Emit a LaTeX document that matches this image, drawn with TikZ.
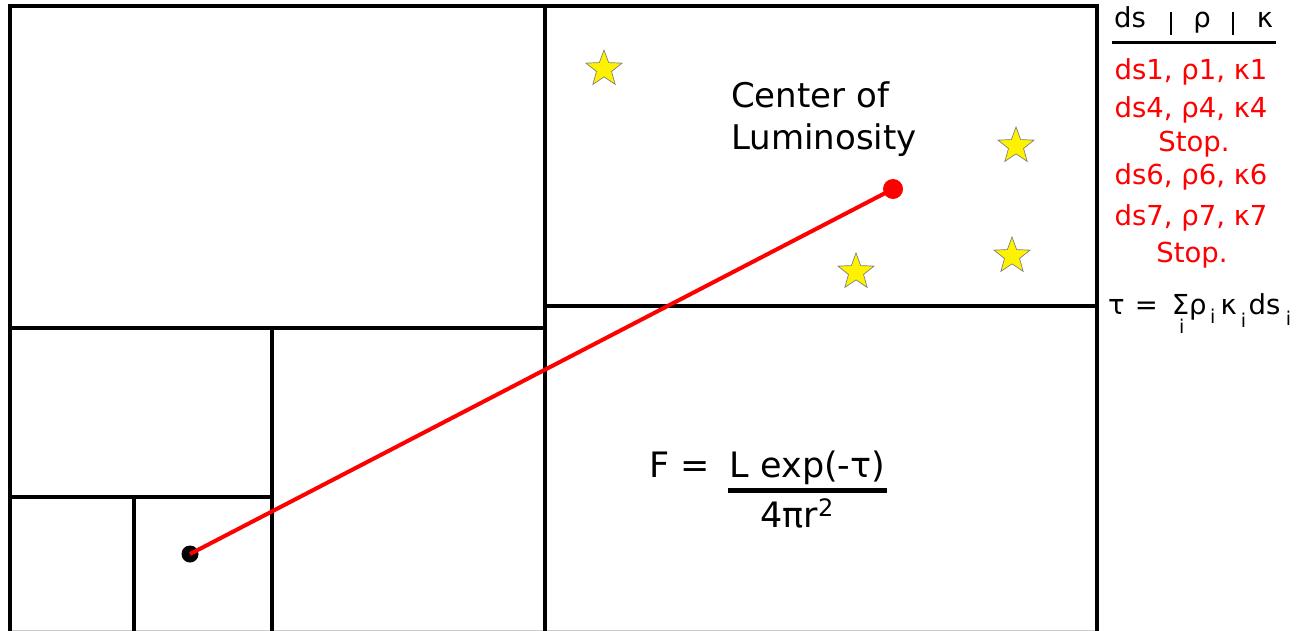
\documentclass[tikz,border=0pt]{standalone}
\usepackage{fontspec}
\setmainfont{DejaVu Sans}
\usetikzlibrary{shapes.geometric}
\newcommand{\subi}{{\fontsize{19}{20}\selectfont i}}
\begin{document}
\begin{tikzpicture}[x=1pt,y=-1pt,
  wall/.style={line width=4.5pt, black},
  starnode/.style={star, star points=5, star point ratio=2.4, fill=yellow, draw=gray, line width=0.7pt, minimum size=38pt, inner sep=0pt},
  label/.style={font=\fontsize{34}{42}\selectfont, inner sep=0pt},
  big/.style={font=\fontsize{35}{40}\selectfont, inner sep=0pt},
  tab/.style={font=\fontsize{27.5}{30}\selectfont, inner sep=0pt},
  redtab/.style={tab, text=red}]
\useasboundingbox (0,0) rectangle (1297,631);
% grid
\coordinate (tl) at (10,6); \coordinate (tr) at (1097,6);
\coordinate (bl) at (10,634); \coordinate (br) at (1097,634);
\draw[gray!40, line width=1pt] (10,630.5) -- (1097,630.5);
\draw[wall] (bl) -- (tl) -- (tr) -- (br);
\draw[wall] (545,6) -- (545,634);
\draw[wall] (545,306) -- (1097,306);
\draw[wall] (10,328) -- (545,328);
\draw[wall] (272,328) -- (272,634);
\draw[wall] (10,497) -- (272,497);
\draw[wall] (134,497) -- (134,634);
% stars
\node[starnode] (s1) at (604,69) {};
\node[starnode] (s2) at (1016,146) {};
\node[starnode] (s3) at (856,272) {};
\node[starnode] (s4) at (1012,256) {};
% points and ray
\node[circle, fill=black, minimum size=17pt, inner sep=0pt] (src) at (190,554) {};
\node[circle, fill=red, minimum size=20pt, inner sep=0pt] (lum) at (893,189) {};
\draw[red, line width=4pt] (src.center) -- (lum.center);
% labels
\node[label, anchor=base west] (lab1) at (731,108) {Center of};
\node[label, anchor=base west] (lab2) at (731,150) {Luminosity};
% flux formula
\node[big, anchor=base east] (feq) at (710,477) {F =};
\node[big, anchor=base] (num) at (807.5,477) {L exp(-τ)};
\draw[line width=5pt] (728,490.5) -- (887,490.5);
\node[big, anchor=base] (den) at (797,527) {4πr\raisebox{0.55ex}{\fontsize{24}{26}\selectfont 2}};
% table
\node[tab, anchor=base] (h1) at (1130,28) {ds};
\node[tab, anchor=base] (h2) at (1202,28) {ρ};
\node[tab, anchor=base] (h3) at (1265,28) {κ};
\draw[line width=2.5pt] (1171,12) -- (1171,35);
\draw[line width=2.5pt] (1233,12) -- (1233,35);
\draw[line width=3pt] (1112,43) -- (1276,43);
\node[redtab, anchor=base] (r1) at (1191,80) {ds1, ρ1, κ1};
\node[redtab, anchor=base] (r2) at (1191,118) {ds4, ρ4, κ4};
\node[redtab, anchor=base] (r3) at (1194,152) {Stop.};
\node[redtab, anchor=base] (r4) at (1191,185) {ds6, ρ6, κ6};
\node[redtab, anchor=base] (r5) at (1191,225) {ds7, ρ7, κ7};
\node[redtab, anchor=base] (r6) at (1192,262) {Stop.};
% tau
\node[tab, anchor=base west] (tau) at (1108,314) {τ\hspace{10pt}=\hspace{14pt}Σ\llap{\raisebox{-19pt}{\subi}\hspace{4.7pt}}ρ\hspace{3.4pt}\raisebox{-9pt}{\subi}\hspace{5.4pt}κ\hspace{4pt}\raisebox{-13pt}{\subi}\hspace{2.4pt}ds\hspace{5.5pt}\raisebox{-11pt}{\subi}};
\end{tikzpicture}
\end{document}
